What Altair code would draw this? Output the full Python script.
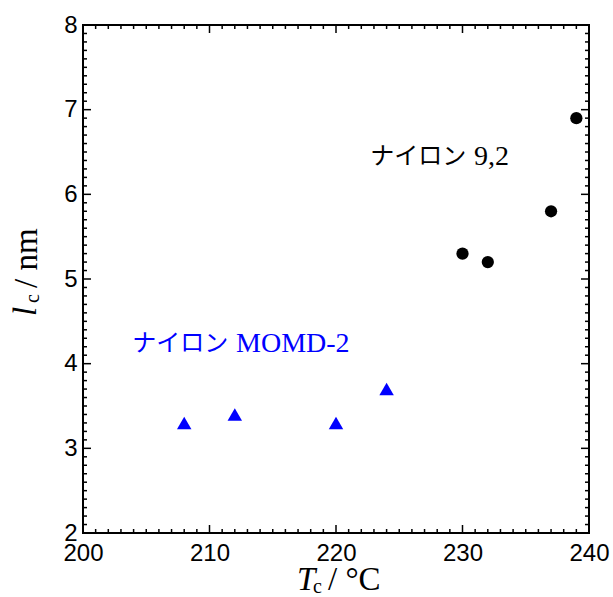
import altair as alt
import pandas as pd

# ---- data ----
tc_92 = [230, 232, 237, 239]
lc_92 = [5.3, 5.2, 5.8, 6.9]
tc_momd = [208, 212, 220, 224]
lc_momd = [3.3, 3.4, 3.3, 3.7]

# annotation labels (Japanese part / Latin part), anchored in data units
label_jp = ["ナイロン", "ナイロン"]
label_en = ["9,2", "MOMD-2"]
label_jp_x = [222.7, 203.9]
label_en_x = [230.9, 212.1]
label_y = [6.35, 4.14]
label_color = ["#000000", "#0000ff"]

x_domain = [200, 240]
y_domain = [2, 8]
x_major = [200, 210, 220, 230, 240]
y_major = [2, 3, 4, 5, 6, 7, 8]
x_minor = [v for v in range(200, 241) if v % 10 != 0]
y_minor = [round(2 + 0.1 * i, 1) for i in range(61) if i % 10 != 0]

W, H = 506, 508
MAJ, MIN = 8, 4

xs = alt.Scale(domain=x_domain, nice=False, zero=False)
ys = alt.Scale(domain=y_domain, nice=False, zero=False)

df92 = pd.DataFrame({"Tc": tc_92, "lc": lc_92})
dfm = pd.DataFrame({"Tc": tc_momd, "lc": lc_momd})
dflab = pd.DataFrame({"jp": label_jp, "en": label_en, "xj": label_jp_x,
                      "xe": label_en_x, "y": label_y, "c": label_color})


def label_axis(orient, values):
    return alt.Axis(
        orient=orient, values=values, ticks=False, tickSize=0, domain=False,
        grid=False, title=None, labelFont="Liberation Sans", labelFontSize=24,
        labelColor="black", labelPadding=8 if orient == "bottom" else 6,
        labelFlush=False, labelOverlap=False, labelBound=False,
    )


axis_layer = alt.Chart(df92).mark_point(opacity=0).encode(
    x=alt.X("Tc:Q", scale=xs, axis=label_axis("bottom", x_major)),
    y=alt.Y("lc:Q", scale=ys, axis=label_axis("left", y_major)),
)


def xticks(values, size, top):
    return alt.Chart(pd.DataFrame({"v": values})).mark_rule(color="black", strokeWidth=1.5).encode(
        x=alt.X("v:Q", scale=xs, axis=None),
        y=alt.value(0 if top else H),
        y2=alt.value(size if top else H - size),
    )


def yticks(values, size, right):
    return alt.Chart(pd.DataFrame({"v": values})).mark_rule(color="black", strokeWidth=1.5).encode(
        y=alt.Y("v:Q", scale=ys, axis=None),
        x=alt.value(W if right else 0),
        x2=alt.value(W - size if right else size),
    )


tick_layers = [
    xticks(x_major, MAJ, False), xticks(x_minor, MIN, False),
    xticks(x_major, MAJ, True), xticks(x_minor, MIN, True),
    yticks(y_major, MAJ, False), yticks(y_minor, MIN, False),
    yticks(y_major, MAJ, True), yticks(y_minor, MIN, True),
]

pts92 = alt.Chart(df92).mark_point(filled=True, shape="circle", size=150, color="black", opacity=1).encode(
    x=alt.X("Tc:Q", scale=xs, axis=None),
    y=alt.Y("lc:Q", scale=ys, axis=None),
)
ptsm = alt.Chart(dfm).mark_point(filled=True, shape="triangle-up", size=210, color="#0000ff", opacity=1).encode(
    x=alt.X("Tc:Q", scale=xs, axis=None),
    y=alt.Y("lc:Q", scale=ys, axis=None),
)
lab_jp = alt.Chart(dflab).mark_text(
    align="left", baseline="alphabetic", fontSize=24, font="Noto Sans CJK JP", dy=-1,
).encode(
    x=alt.X("xj:Q", scale=xs, axis=None),
    y=alt.Y("y:Q", scale=ys, axis=None),
    text="jp:N",
    color=alt.Color("c:N", scale=None),
)
lab_en = alt.Chart(dflab).mark_text(
    align="left", baseline="alphabetic", fontSize=28, font="Liberation Serif",
).encode(
    x=alt.X("xe:Q", scale=xs, axis=None),
    y=alt.Y("y:Q", scale=ys, axis=None),
    text="en:N",
    color=alt.Color("c:N", scale=None),
)


def piece(text, x, y, size, italic=False, angle=0):
    kw = dict(align="left", baseline="alphabetic", fontSize=size,
              font="Liberation Serif", color="black")
    if italic:
        kw["fontStyle"] = "italic"
    if angle:
        kw["angle"] = angle
    return alt.Chart(pd.DataFrame({"t": [text]})).mark_text(**kw).encode(
        x=alt.value(x), y=alt.value(y), text="t:N"
    )


titles = [
    piece("T", 214, 565, 33, italic=True),
    piece("c", 230, 568, 20),
    piece("/ °C", 245, 565, 33),
    piece("l", -47, 291, 33, italic=True, angle=270),
    piece("c", -44, 278, 20, angle=270),
    piece("/ nm", -46, 263, 33, angle=270),
]

chart = alt.layer(axis_layer, *tick_layers, pts92, ptsm, lab_jp, lab_en, *titles).resolve_axis(
    x="independent", y="independent"
).properties(
    width=W, height=H,
    padding={"left": 83, "top": 25, "right": 24, "bottom": 64},
    autosize=alt.AutoSizeParams(type="none"),
).configure_view(stroke="black", strokeWidth=2)

chart.save("out.html", embed_options={"renderer": "svg", "actions": False})
